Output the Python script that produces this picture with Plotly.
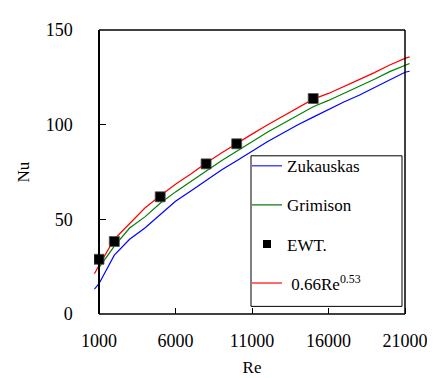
import plotly.graph_objects as go

# Reynolds numbers at which the curves were sampled
re_curve = [700, 1000, 2000, 3000, 4000, 5000, 6000, 7000, 8000, 9000, 10000,
            11000, 12000, 13000, 14000, 15000, 16000, 17000, 18000, 19000,
            20000, 21000, 21300]

nu_zukauskas = [13.1, 16.0, 31.1, 39.5, 45.4, 52.5, 59.5, 65.0, 70.5, 76.0, 81.0,
                86.0, 91.0, 95.5, 100.0, 104.0, 108.0, 112.0, 115.5, 119.5,
                123.5, 127.7, 128.2]

re_grimison = [1000, 2000, 3000, 4000, 5000, 6000, 7000, 8000, 9000, 10000,
               11000, 12000, 13000, 14000, 15000, 16000, 17000, 18000, 19000,
               20000, 21000, 21300]
nu_grimison = [24.5, 35.8, 45.4, 51.3, 58.5, 64.5, 70.0, 75.5, 81.0, 86.0,
               91.0, 96.0, 100.5, 105.0, 109.5, 112.8, 116.5, 120.0, 124.0,
               128.0, 131.5, 132.3]

nu_fit = [21.3, 25.7, 39.5, 48.0, 56.0, 62.5, 68.5, 74.0, 79.8, 85.0, 90.2,
          95.0, 99.8, 104.3, 108.8, 113.5, 116.5, 120.0, 123.8, 127.5,
          131.5, 135.0, 135.8]

re_ewt = [1000, 2000, 5000, 8000, 10000, 15000]
nu_ewt = [28.9, 38.3, 61.9, 79.3, 89.9, 113.8]

x_ticks = [1000, 6000, 11000, 16000, 21000]
y_ticks = [0, 50, 100, 150]

series_names = ["Zukauskas", "Grimison", "EWT.", " 0.66Re<sup>0.53</sup>"]

FONT = "'Liberation Serif', 'Times New Roman', 'DejaVu Serif', serif"

fig = go.Figure()
# data traces (legend handled by dedicated legend-only entries)
fig.add_trace(go.Scatter(x=re_curve, y=nu_zukauskas, mode="lines", name=series_names[0],
                         line=dict(color="#0000ff", width=1.2), showlegend=False))
fig.add_trace(go.Scatter(x=re_grimison, y=nu_grimison, mode="lines", name=series_names[1],
                         line=dict(color="#008000", width=1.2), showlegend=False))
fig.add_trace(go.Scatter(x=re_curve, y=nu_fit, mode="lines", name=series_names[3],
                         line=dict(color="#ff0000", width=1.2), showlegend=False))
fig.add_trace(go.Scatter(x=re_ewt, y=nu_ewt, mode="markers", name=series_names[2],
                         marker=dict(symbol="square", color="black", size=10,
                                     line=dict(color="#555555", width=0.8)),
                         showlegend=False))

# legend entries
fig.add_trace(go.Scatter(x=[None], y=[None], mode="lines", name=series_names[0],
                         line=dict(color="#4d4dff", width=1.5), legendrank=1, legendgroup="a"))
fig.add_trace(go.Scatter(x=[None], y=[None], mode="lines", name=series_names[1],
                         line=dict(color="#107a10", width=1.2), legendrank=2, legendgroup="b"))
fig.add_trace(go.Scatter(x=[None], y=[None], mode="markers", name=series_names[2],
                         marker=dict(symbol="square", color="black", size=8),
                         legendrank=3, legendgroup="c"))
fig.add_trace(go.Scatter(x=[None], y=[None], mode="lines", name=series_names[3],
                         line=dict(color="#ff6a6a", width=2), legendrank=4, legendgroup="d"))

# frame lines (bottom, right, top)
for (x0, y0, x1, y1) in [(1000, 0, 21000, 0), (21000, 0, 21000, 1), (1000, 1, 21000, 1)]:
    fig.add_shape(type="line", xref="x", yref="paper", x0=x0, x1=x1, y0=y0, y1=y1,
                  line=dict(color="black", width=1.5), layer="above")

# legend frame
fig.add_shape(type="rect", xref="paper", yref="paper",
              x0=(243 - 86) / 316, x1=(394 - 86) / 316,
              y0=(310 - 302) / 298, y1=(310 - 144) / 298,
              line=dict(color="black", width=1), fillcolor="white", layer="above")

fig.update_layout(
    width=435, height=378,
    margin=dict(l=86, r=33, t=12, b=68),
    paper_bgcolor="white", plot_bgcolor="white",
    font=dict(family=FONT, size=17, color="black"),
    showlegend=True,
    legend=dict(x=(239 - 86) / 316, y=(310 - 136) / 298, xanchor="left", yanchor="top",
                borderwidth=0, bgcolor="rgba(0,0,0,0)",
                font=dict(family=FONT, size=17, color="black"),
                tracegroupgap=14, traceorder="grouped"),
    xaxis=dict(range=[673, 21327], tickvals=x_ticks, ticktext=[str(v) for v in x_ticks],
               ticks="inside", ticklen=6, tickcolor="black", tickwidth=1,
               showline=False, showgrid=False, zeroline=False,
               tickfont=dict(family=FONT, size=18), ticklabelstandoff=14,
               title=dict(text="Re", font=dict(family=FONT, size=17), standoff=11)),
    yaxis=dict(range=[0, 150], tickvals=y_ticks, anchor="free", position=5 / 316,
               ticks="inside", ticklen=6, tickcolor="black", tickwidth=1,
               showline=True, linecolor="black", linewidth=1.5,
               showgrid=False, zeroline=False,
               tickfont=dict(family=FONT, size=18), ticklabelstandoff=22,
               title=dict(text="Nu", font=dict(family=FONT, size=17), standoff=11)),
)

fig.write_html("out.html")
